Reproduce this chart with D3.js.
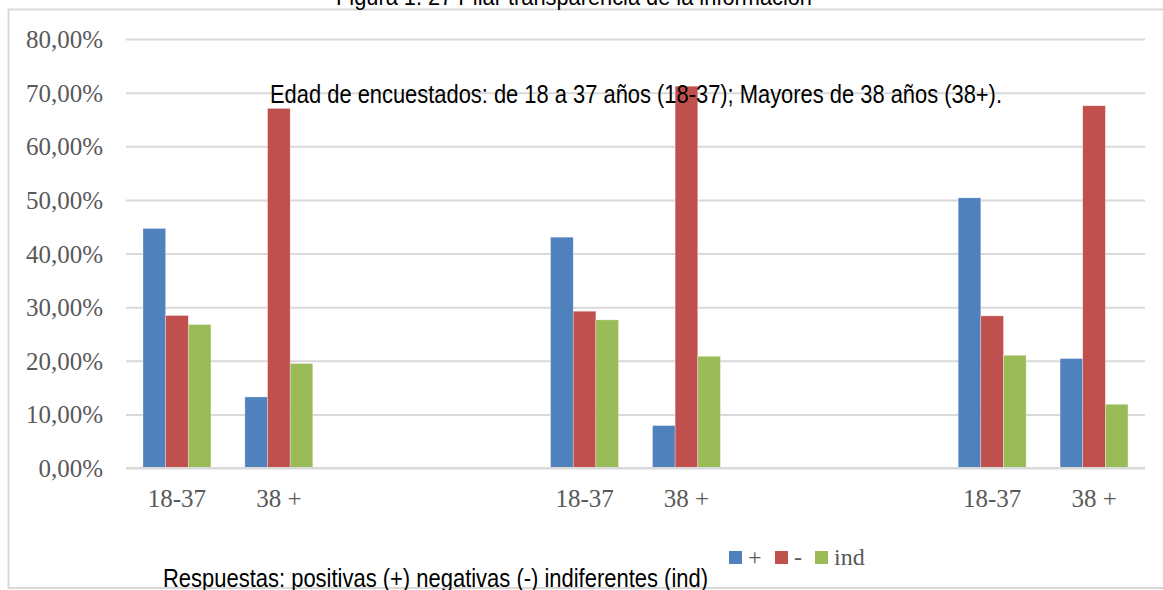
<!DOCTYPE html>
<meta charset="utf-8">
<style>
    body { margin: 0; background: #fff; }
    .serif { font-family: "Liberation Serif", "DejaVu Serif", serif; fill: #595959; }
    .narrow { font-family: "Liberation Sans", Arial, sans-serif; fill: #000; }
</style>
<svg width="1163" height="590"></svg>
<script src="https://cdn.jsdelivr.net/npm/d3@7"></script>
<script>

    // data
    var ageLabels = ["18-37", "38 +", "", "", "18-37", "38 +", "", "", "18-37", "38 +"];
    var seriesNames = ["+", "-", "ind"];
    var positivas = [44.67, 13.25, null, null, 43.05, 7.91, null, null, 50.38, 20.41];
    var negativas = [28.44, 67.06, null, null, 29.24, 71.2, null, null, 28.37, 67.55];
    var indiferentes = [26.76, 19.48, null, null, 27.62, 20.84, null, null, 21.03, 11.89];
    var yTicks = [0, 10, 20, 30, 40, 50, 60, 70, 80];
    var colors = ["#4F81BD", "#C0504D", "#9BBB59"];

    var svg = d3.select("svg"),
        margin = {top: 39, right: 18, bottom: 122, left: 126},
        width = svg.attr("width") - margin.left - margin.right,
        height = svg.attr("height") - margin.top - margin.bottom;

    // outer chart border
    svg.append("rect")
        .attr("x", 8.5).attr("y", 9.5)
        .attr("width", 1170).attr("height", 578.5)
        .attr("fill", "none")
        .attr("stroke", "#D9D9D9")
        .attr("stroke-width", 2);

    var g = svg.append("g").attr("transform", "translate(" + margin.left + "," + margin.top + ")");

    var idx = ageLabels.map(function(d, i) { return i; });
    var allSeries = [positivas, negativas, indiferentes];

    var x0 = d3.scaleBand().domain(idx).range([0, width]);
    var x1 = d3.scaleBand().domain(seriesNames).range([0, x0.bandwidth()]).paddingInner(0).paddingOuter(0.75);
    var y = d3.scaleLinear().domain([0, 80]).range([height, 0]);
    var z = d3.scaleOrdinal().domain(seriesNames).range(colors);

    // gridlines + y labels
    var yAxis = g.append("g")
        .call(d3.axisLeft(y).tickValues(yTicks).tickSize(-width).tickPadding(23)
            .tickFormat(function(d) { return d.toFixed(2).replace(".", ",") + "%"; }));
    yAxis.select(".domain").remove();
    yAxis.selectAll("line").attr("stroke", "#D9D9D9").attr("stroke-width", 2);
    yAxis.selectAll("text").attr("class", "serif").style("font-size", "25px").attr("dy", "0.34em");

    // x labels
    var xAxis = g.append("g")
        .attr("transform", "translate(0," + height + ")")
        .call(d3.axisBottom(x0).tickSize(0).tickPadding(21)
            .tickFormat(function(i) { return ageLabels[i]; }));
    xAxis.select(".domain").remove();
    xAxis.selectAll("text").attr("class", "serif").style("font-size", "25px");

    // bars
    var rows = idx.map(function(i) {
        return seriesNames.map(function(s, k) { return {i: i, key: s, value: allSeries[k][i]}; });
    });

    g.selectAll(".group")
        .data(rows)
        .enter().append("g")
        .attr("class", "group")
        .attr("transform", function(d, i) { return "translate(" + x0(i) + ",0)"; })
        .selectAll("rect")
        .data(function(d) { return d.filter(function(e) { return e.value != null; }); })
        .enter().append("rect")
        .attr("x", function(d) { return x1(d.key); })
        .attr("y", function(d) { return y(d.value); })
        .attr("width", x1.bandwidth())
        .attr("height", function(d) { return height - y(d.value); })
        .attr("fill", function(d) { return z(d.key); })
        .attr("stroke", "#fff")
        .attr("stroke-opacity", 0.5)
        .attr("stroke-width", 0.6);

    // baseline
    g.append("line")
        .attr("x1", 0).attr("x2", width)
        .attr("y1", height).attr("y2", height)
        .attr("stroke", "#D9D9D9").attr("stroke-width", 2);

    // texts pasted over the chart (narrow Arial look, squeezed to width)
    svg.append("text")
        .attr("class", "narrow")
        .attr("x", 336).attr("y", 5)
        .attr("textLength", 476).attr("lengthAdjust", "spacingAndGlyphs")
        .style("font-size", "24px")
        .text("Figura 1. 27 Pilar transparencia de la información");

    svg.append("text")
        .attr("class", "narrow")
        .attr("x", 270).attr("y", 103)
        .attr("textLength", 732).attr("lengthAdjust", "spacingAndGlyphs")
        .style("font-size", "26.5px")
        .text("Edad de encuestados: de 18 a 37 años (18-37); Mayores de 38 años (38+).");

    svg.append("text")
        .attr("class", "narrow")
        .attr("x", 163).attr("y", 587)
        .attr("textLength", 545).attr("lengthAdjust", "spacingAndGlyphs")
        .style("font-size", "26.5px")
        .text("Respuestas: positivas (+) negativas (-)  indiferentes (ind)");

    // legend
    var legendX = [729, 775, 815];
    var legend = svg.selectAll(".legend")
        .data(seriesNames)
        .enter().append("g")
        .attr("class", "legend")
        .attr("transform", function(d, i) { return "translate(" + legendX[i] + ",551)"; });

    legend.append("rect")
        .attr("width", 13).attr("height", 13)
        .attr("fill", function(d) { return z(d); });

    legend.append("text")
        .attr("class", "serif")
        .attr("x", 19).attr("y", 14)
        .style("font-size", "24px")
        .text(function(d) { return d; });

</script>
